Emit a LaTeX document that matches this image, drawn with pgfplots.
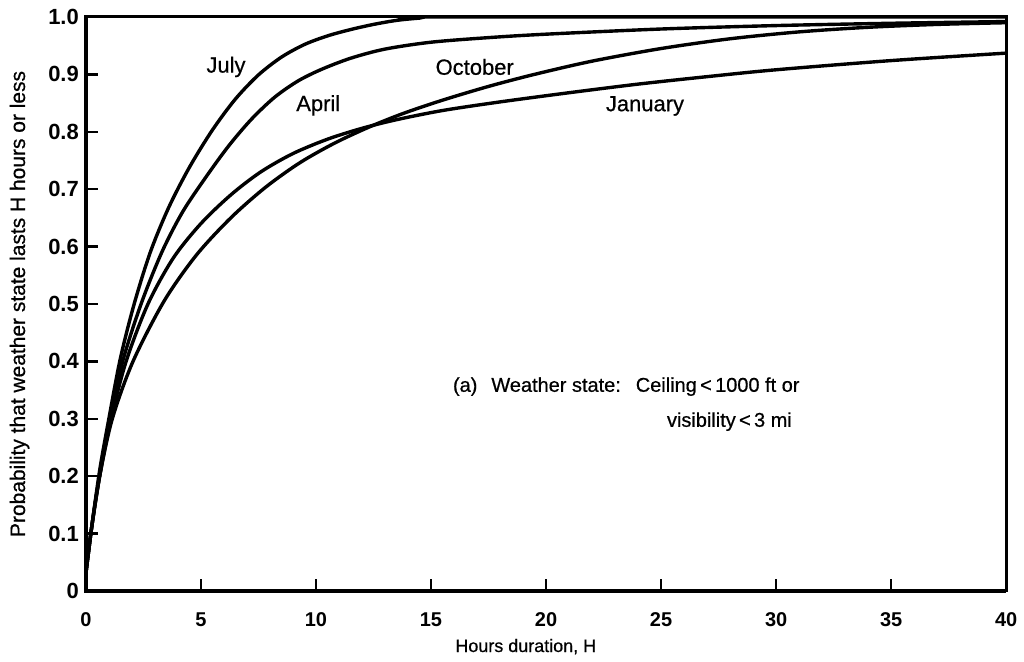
\documentclass[border=0pt]{standalone}
\usepackage{fontspec}
\setmainfont{Liberation Sans}
\newfontfamily\med{Liberation Sans}[FakeBold=0.6]
\usepackage{pgfplots}
\pgfplotsset{compat=1.18}
\tikzset{curve/.style={black, line width=1.7pt, smooth}}

\begin{document}
\begin{tikzpicture}
	\begin{axis}[
			name=main,
			scale only axis,
			width=461pt, height=287.5pt,
			xmin=0, xmax=40, ymin=0, ymax=1,
			xtick={0,5,10,15,20,25,30,35,40},
			xticklabels={0,5,10,15,20,25,30,35,40},
			ytick={0,0.1,0.2,0.3,0.4,0.5,0.6,0.7,0.8,0.9,1.0},
			yticklabels={0,0.1,0.2,0.3,0.4,0.5,0.6,0.7,0.8,0.9,1.0},
			tick pos=left,
			tick align=inside,
			major tick length=6pt,
			tick style={line width=1.2pt, black},
			axis line style={line width=1.5pt},
			xticklabel style={font=\bfseries\fontsize{10}{12}\selectfont, yshift=-7.5pt},
			yticklabel style={font=\bfseries\fontsize{11}{13}\selectfont},
			/pgf/number format/assume math mode=true,
			xlabel={Hours duration, H},
			ylabel={Probability that weather state lasts H hours or less},
			xlabel style={font=\med\fontsize{9}{11}\selectfont,
				at={(axis description cs:0.478,-0.097)}, anchor=center},
			ylabel style={font=\med\fontsize{10.5}{12}\selectfont,
				at={(axis description cs:-0.072,0.5)}, anchor=center},
			clip=false,
		]

		% July
		\addplot[curve] coordinates {
    (0,0.03) (0.25,0.11) (0.6,0.21) (1.0,0.3) (1.5,0.405) (2.1,0.5)
    (2.8,0.59) (3.6,0.668) (4.5,0.738) (5.5,0.803) (6.5,0.857)
    (7.5,0.899) (8.5,0.93) (9.5,0.952) (10.5,0.967) (11.5,0.978)
    (12.5,0.987) (13.5,0.994) (14.5,0.998) (15.5,1.0) (40,1.0)
		};

		% April
		\addplot[curve] coordinates {
    (0,0.03) (0.25,0.11) (0.6,0.2) (1.05,0.3) (1.6,0.4) (2.4,0.5)
    (3.3,0.59) (4.2,0.66) (5.2,0.72) (6.2,0.775) (7.2,0.822)
    (8.2,0.86) (9.2,0.888) (10.2,0.908) (11.5,0.928) (13,0.944)
    (15,0.956) (17.5,0.964) (20,0.97) (25,0.979) (30,0.985)
    (35,0.989) (40,0.992)
		};

		% January
		\addplot[curve] coordinates {
    (0,0.03) (0.25,0.11) (0.6,0.2) (1.1,0.3) (1.75,0.4) (2.7,0.5)
    (3.8,0.58) (5,0.64) (6.3,0.69) (7.6,0.73) (9,0.762)
    (10.5,0.787) (12,0.806) (13.5,0.821) (15.5,0.837) (18,0.852)
    (21,0.868) (24,0.883) (27,0.896) (30,0.908) (35,0.924) (40,0.937)
		};

		% October
		\addplot[curve] coordinates {
    (0,0.03) (0.25,0.11) (0.6,0.2) (1.15,0.3) (2.05,0.4) (3.4,0.505)
    (4.8,0.585) (6.3,0.65) (7.8,0.703) (9.3,0.746) (10.8,0.78)
    (12.3,0.808) (13.8,0.832) (15.5,0.855) (17.5,0.879) (19.5,0.9)
    (22,0.923) (25,0.945) (28,0.962) (31,0.974) (34,0.982)
    (37,0.987) (40,0.99)
		};

		% curve names
		\node[font=\med\fontsize{11}{13}\selectfont] at (axis cs:6.09,0.913) {July};
		\node[font=\med\fontsize{11}{13}\selectfont] at (axis cs:10.1,0.846) {April};
		\node[font=\med\fontsize{11}{13}\selectfont] at (axis cs:16.9,0.913) {October};
		\node[font=\med\fontsize{11}{13}\selectfont] at (axis cs:24.3,0.845) {January};

		\node[font=\med\fontsize{10}{12}\selectfont, anchor=west] at (axis cs:15.65,0.356)
			{(a)\hspace{7pt}Weather state:\hspace{7.5pt}Ceiling\,<\,1000 ft or};
		\node[font=\med\fontsize{10}{12}\selectfont, anchor=west] at (axis cs:24.95,0.295)
			{visibility\,<\,3 mi};
	\end{axis}
	% heavier left and bottom axis lines, as in the print
	\draw[line width=2.2pt] (main.north west) -- (main.south west) -- (main.south east);
	\path[use as bounding box] ([xshift=-43pt,yshift=-35.5pt]main.south west)
		rectangle ([xshift=8pt,yshift=8.5pt]main.north east);
\end{tikzpicture}
\end{document}
